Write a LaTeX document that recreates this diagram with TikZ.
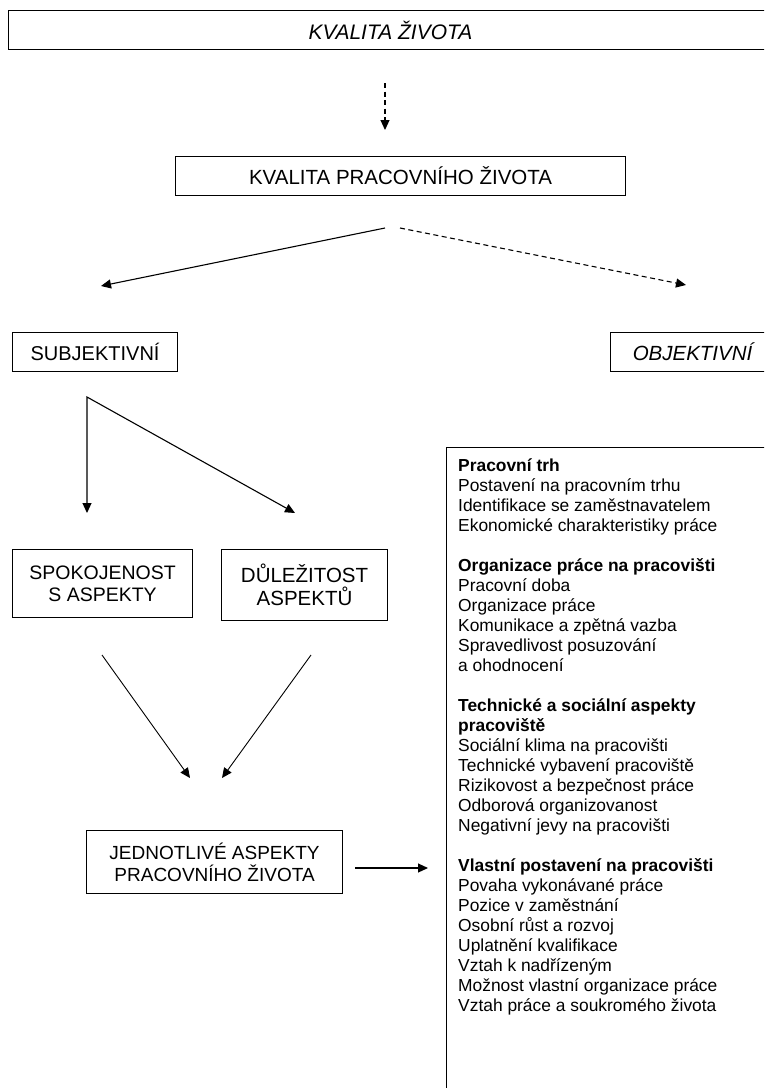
\documentclass[tikz,border=0pt]{standalone}
\usepackage{fontspec}
\setmainfont{Liberation Sans}
\usetikzlibrary{arrows.meta}
\begin{document}
\begin{tikzpicture}[x=1pt,y=-1pt,
  box/.style={draw, line width=1.1pt, inner sep=0pt, anchor=north west, align=center, font=\fontsize{19.5}{22}\selectfont},
  arr/.style={line width=1.1pt, -{Triangle[length=10pt,width=9pt]}},
  thinarr/.style={line width=0.9pt, -{Triangle[length=10pt,width=9pt]}},
  darr/.style={arr, dash pattern=on 5pt off 3.5pt},
  item/.style={anchor=base west, inner sep=0pt, font=\fontsize{17.4}{20}\selectfont},
  head/.style={item, font=\fontsize{17.4}{20}\selectfont\bfseries}]
\useasboundingbox (0,0) rectangle (764,1088);
\clip (0,0) rectangle (764,1088);
% top box
\node[box, minimum width=764pt, minimum height=39pt, font=\fontsize{21}{22}\selectfont\itshape] (kz) at (8,10) {KVALITA ŽIVOTA};
\coordinate (d1) at (385,83);
\coordinate (d2) at (385,130);
\draw[darr] (d1) -- (d2);
% second box
\node[box, minimum width=450pt, minimum height=39pt, font=\fontsize{20.5}{22}\selectfont] (kpz) at (175,156) {KVALITA PRACOVNÍHO ŽIVOTA};
\coordinate (s1) at (385,228);
\coordinate (s2) at (101,286);
\coordinate (o1) at (400,228);
\coordinate (o2) at (686,285);
\draw[arr] (s1) -- (s2);
\draw[darr] (o1) -- (o2);
% subjective / objective
\node[box, minimum width=165pt, minimum height=39pt, font=\fontsize{20}{22}\selectfont] (subj) at (12,332) {SUBJEKTIVNÍ};
\node[box, minimum width=164pt, minimum height=39pt, font=\fontsize{20.5}{22}\selectfont\itshape] (obj) at (610,332) {OBJEKTIVNÍ};
\coordinate (v) at (87,397);
\coordinate (t1) at (87,513);
\coordinate (t2) at (295,513);
\draw[line width=1.1pt, line join=miter, {Triangle[length=10pt,width=9pt]}-{Triangle[length=10pt,width=9pt]}] (t1) -- (v) -- (t2);
% spokojenost / dulezitost
\node[box, minimum width=180pt, minimum height=68pt] (spok) at (12,549) {SPOKOJENOST\\S ASPEKTY};
\node[box, minimum width=166pt, minimum height=71pt, font=\fontsize{20.5}{23}\selectfont] (dul) at (221,549) {DŮLEŽITOST\\ASPEKTŮ};
\coordinate (c1) at (102,655);
\coordinate (c2) at (190,778);
\coordinate (c3) at (311,655);
\coordinate (c4) at (222,778);
\draw[thinarr] (c1) -- (c2);
\draw[thinarr] (c3) -- (c4);
% jednotlive aspekty
\node[box, minimum width=256pt, minimum height=63pt, font=\fontsize{19}{22}\selectfont] (jedn) at (86,830) {JEDNOTLIVÉ ASPEKTY\\PRACOVNÍHO ŽIVOTA};
% list box
\node[draw, line width=1.1pt, anchor=north west, minimum width=400pt, minimum height=700pt, inner sep=0pt] (list) at (446,447) {};
\coordinate (j1) at (355,868);
\coordinate (j2) at (428,868);
\draw[arr] (j1) -- (j2);
\node[head] (l0) at (458,471) {Pracovní trh};
\node[item] (l1) at (458,491) {Postavení na pracovním trhu};
\node[item] (l2) at (458,511) {Identifikace se zaměstnavatelem};
\node[item] (l3) at (458,531) {Ekonomické charakteristiky práce};
\node[head] (l5) at (458,571) {Organizace práce na pracovišti};
\node[item] (l6) at (458,591) {Pracovní doba};
\node[item] (l7) at (458,611) {Organizace práce};
\node[item] (l8) at (458,631) {Komunikace a zpětná vazba};
\node[item] (l9) at (458,651) {Spravedlivost posuzování};
\node[item] (l10) at (458,671) {a ohodnocení};
\node[head] (l12) at (458,711) {Technické a sociální aspekty};
\node[head] (l13) at (458,731) {pracoviště};
\node[item] (l14) at (458,751) {Sociální klima na pracovišti};
\node[item] (l15) at (458,771) {Technické vybavení pracoviště};
\node[item] (l16) at (458,791) {Rizikovost a bezpečnost práce};
\node[item] (l17) at (458,811) {Odborová organizovanost};
\node[item] (l18) at (458,831) {Negativní jevy na pracovišti};
\node[head] (l20) at (458,871) {Vlastní postavení na pracovišti};
\node[item] (l21) at (458,891) {Povaha vykonávané práce};
\node[item] (l22) at (458,911) {Pozice v zaměstnání};
\node[item] (l23) at (458,931) {Osobní růst a rozvoj};
\node[item] (l24) at (458,951) {Uplatnění kvalifikace};
\node[item] (l25) at (458,971) {Vztah k nadřízeným};
\node[item] (l26) at (458,991) {Možnost vlastní organizace práce};
\node[item] (l27) at (458,1011) {Vztah práce a soukromého života};
\end{tikzpicture}
\end{document}
